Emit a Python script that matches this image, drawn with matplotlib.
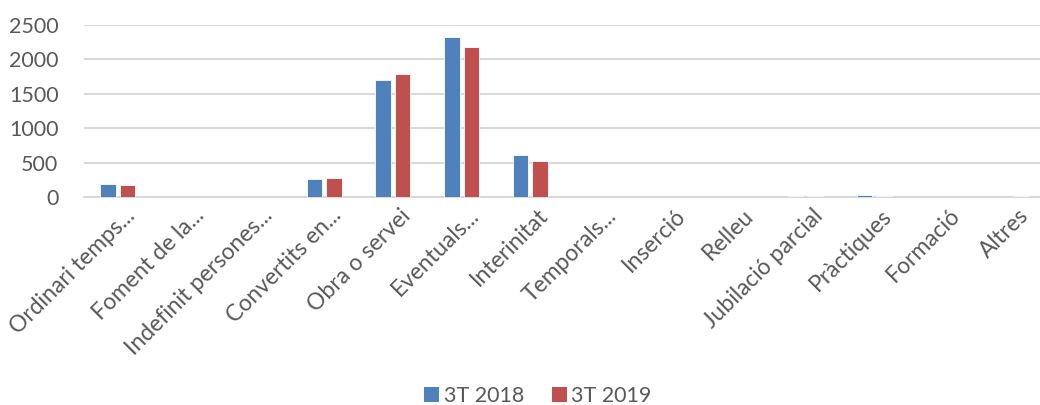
import matplotlib
matplotlib.use("Agg")
import matplotlib.pyplot as plt
import matplotlib.transforms as mtransforms
import numpy as np
from matplotlib.patches import Patch

categories = ["Ordinari temps...", "Foment de la...", "Indefinit persones...",
              "Convertits en...", "Obra o servei", "Eventuals...", "Interinitat",
              "Temporals...", "Inserció", "Relleu", "Jubilació parcial",
              "Pràctiques", "Formació", "Altres"]
series_names = ["3T 2018", "3T 2019"]
values_2018 = [190, 3, 3, 260, 1700, 2320, 610, 3, 1, 4, 15, 25, 2, 5]
values_2019 = [175, 2, 3, 275, 1790, 2175, 523, 2, 1, 3, 8, 15, 2, 15]
y_ticks = [0, 500, 1000, 1500, 2000, 2500]

plt.rcParams['font.family'] = ['Lato', 'DejaVu Sans']

W, H = 1040, 405
fig = plt.figure(figsize=(W / 100, H / 100), dpi=100)
left_px, right_px, top_px, bot_px = 83.5, 1046, 25, 197
ax = fig.add_axes([left_px / W, 1 - bot_px / H, (right_px - left_px) / W, (bot_px - top_px) / H])

x = np.arange(len(categories))
bw = 0.225
off = 0.142
blue = "#4F81BD"
red = "#C0504D"
ax.bar(x - off, values_2018, bw, color=blue, edgecolor="white", linewidth=0.6, zorder=3)
ax.bar(x + off, values_2019, bw, color=red, edgecolor="white", linewidth=0.6, zorder=3)

ax.set_xlim(-0.5, len(categories) - 0.5)
ax.set_ylim(0, 2500)
ax.set_yticks(y_ticks)
ax.set_yticklabels([str(v) for v in y_ticks])
ax.yaxis.grid(True, color="#D9D9D9", linewidth=1.5, zorder=0)
ax.set_axisbelow(True)
for s in ["top", "right", "left"]:
    ax.spines[s].set_visible(False)
ax.spines["bottom"].set_color("#D9D9D9")
ax.spines["bottom"].set_linewidth(1.5)
ax.spines["bottom"].set_zorder(1)

ax.tick_params(axis="y", length=0, pad=18, labelsize=15.5, labelcolor="#595959")
ax.tick_params(axis="x", length=0, pad=6, labelsize=16.5, labelcolor="#595959")
ax.set_xticks(x)
ax.set_xticklabels(categories, rotation=45, ha="right", va="center", rotation_mode="anchor")
shift = mtransforms.ScaledTranslation(0.14, -0.07, fig.dpi_scale_trans)
for lab in ax.get_xticklabels():
    lab.set_transform(lab.get_transform() + shift)

handles = [Patch(facecolor=blue, edgecolor="none"), Patch(facecolor=red, edgecolor="none")]
fig.legend(handles, series_names, loc="center", bbox_to_anchor=(538 / W, 1 - 396 / H),
           ncol=2, frameon=False, fontsize=15.5, handlelength=0.7, handleheight=0.7,
           handletextpad=0.2, columnspacing=1.3, labelcolor="#595959")

fig.savefig("out.png", dpi=100)
